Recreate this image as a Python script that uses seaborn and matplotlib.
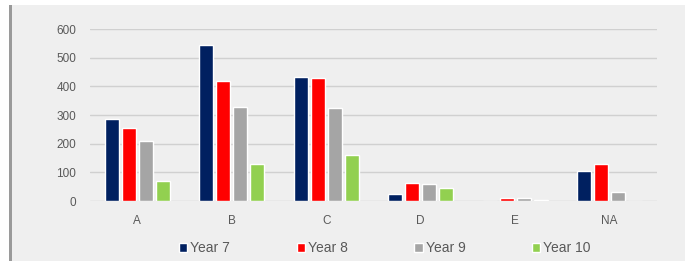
import matplotlib
matplotlib.use("Agg")
import matplotlib.pyplot as plt
import pandas as pd
import seaborn as sns
from matplotlib.patches import Rectangle

# Data
grades = ['A', 'B', 'C', 'D', 'E', 'NA']
years = ['Year 7', 'Year 8', 'Year 9', 'Year 10']
year7 = [286, 545, 431, 26, 0, 103]
year8 = [255, 420, 430, 64, 12, 128]
year9 = [209, 329, 325, 58, 9, 33]
year10 = [70, 128, 160, 45, 5, 0]
colors = ['#002060', '#ff0000', '#a5a5a5', '#92d050']

rows = []
for yr, vals in zip(years, [year7, year8, year9, year10]):
    for g, v in zip(grades, vals):
        rows.append({'Grade': g, 'Year': yr, 'Count': v})
df = pd.DataFrame(rows)

sns.set_style('white')
plt.rcParams['font.family'] = ['Liberation Sans', 'DejaVu Sans']

fig = plt.figure(figsize=(6.85, 2.61), dpi=100)
fig.patch.set_facecolor('white')
# grey chart panel with a shadow on the left
fig.patches.append(Rectangle((10 / 685, 0), 675 / 685, 1 - 5 / 261,
                             transform=fig.transFigure, facecolor='#efefef',
                             edgecolor='none', zorder=-2))
fig.patches.append(Rectangle((9 / 685, 0), 3 / 685, 1 - 5 / 261,
                             transform=fig.transFigure, facecolor='#9a9a9a',
                             edgecolor='none', zorder=-1))

ax = fig.add_axes([90 / 685, 1 - 201 / 261, 567 / 685, 172 / 261])
ax.set_facecolor('#efefef')
sns.barplot(data=df, x='Grade', y='Count', hue='Year', palette=colors,
            saturation=1, width=0.72, gap=0.2, ax=ax, zorder=3)

ax.set_ylim(0, 600)
ax.set_yticks(range(0, 601, 100))
ax.set_xlim(-0.5, len(grades) - 0.5)
ax.grid(axis='y', color='#d0d0d0', linewidth=1)
ax.set_axisbelow(True)
for s in ax.spines.values():
    s.set_visible(False)
ax.tick_params(axis='both', length=0, labelsize=8.5, colors='#595959')
ax.tick_params(axis='y', pad=10)
ax.tick_params(axis='x', pad=10)
ax.set_xlabel('')
ax.set_ylabel('')

leg = ax.legend(loc='upper center', bbox_to_anchor=(0.52, -0.16), ncol=4,
                frameon=False, fontsize=10, handlelength=0.6,
                handleheight=0.6, handletextpad=0.2, columnspacing=4.8)
for t in leg.get_texts():
    t.set_color('#595959')

fig.savefig('out.png', dpi=100, facecolor=fig.get_facecolor())
